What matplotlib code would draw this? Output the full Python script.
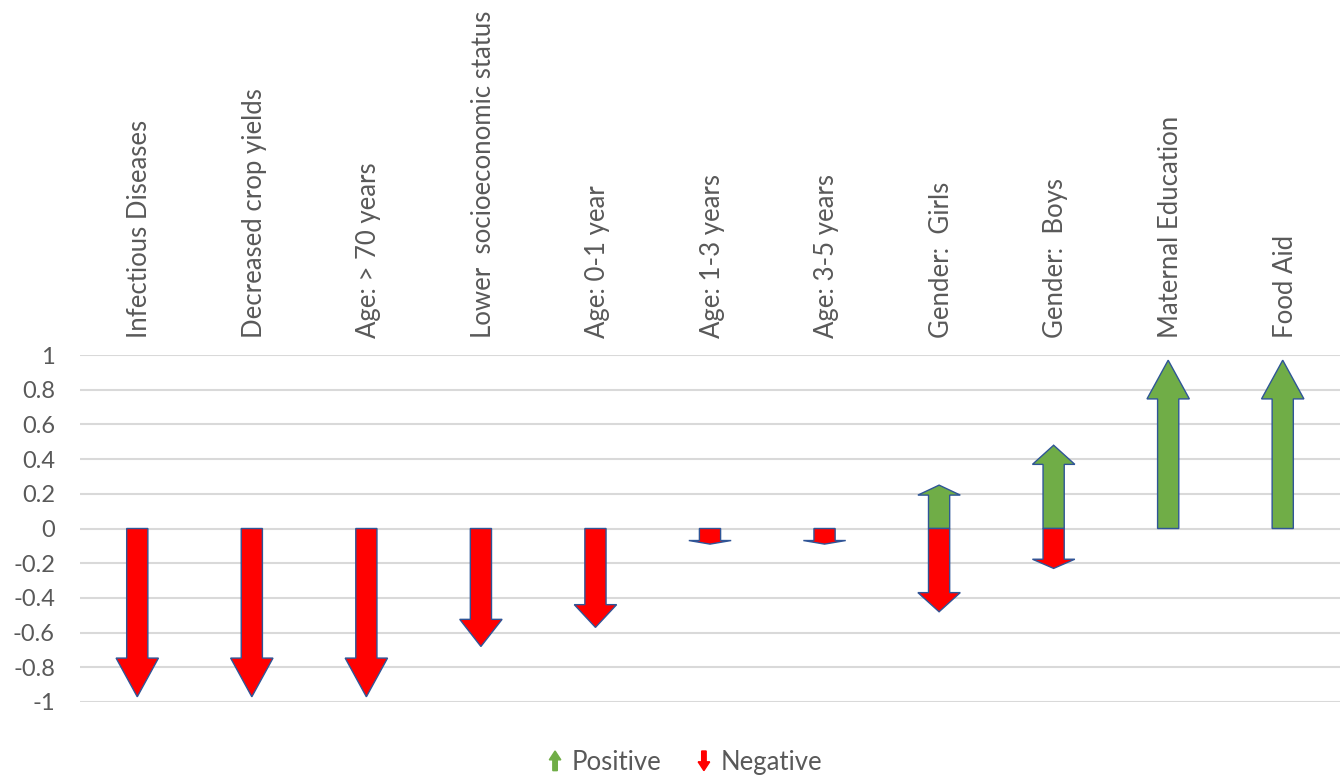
import matplotlib
matplotlib.use('Agg')
import matplotlib.pyplot as plt
from matplotlib.patches import FancyArrow
from matplotlib.legend_handler import HandlerPatch

# data
categories = ['Infectious Diseases', 'Decreased crop yields', 'Age: > 70 years',
              'Lower  socioeconomic status', 'Age: 0-1 year', 'Age: 1-3 years',
              'Age: 3-5 years', 'Gender:  Girls', 'Gender:  Boys',
              'Maternal Education', 'Food Aid']
positive = [0, 0, 0, 0, 0, 0, 0, 0.25, 0.48, 0.97, 0.97]
negative = [-0.97, -0.97, -0.97, -0.68, -0.57, -0.09, -0.09, -0.48, -0.23, 0, 0]
yticks = [-1, -0.8, -0.6, -0.4, -0.2, 0, 0.2, 0.4, 0.6, 0.8, 1]
ytick_labels = ['-1', '-0.8', '-0.6', '-0.4', '-0.2', '0', '0.2', '0.4', '0.6', '0.8', '1']

GREEN = '#70ad47'
RED = '#ff0000'
EDGE = '#2f5597'
TEXT = '#595959'

plt.rcParams['font.family'] = ['Lato', 'DejaVu Sans']

fig = plt.figure(figsize=(13.44, 7.81), dpi=100)
ax = fig.add_axes([80 / 1344, 79 / 781, 1260 / 1344, 347 / 781])
ax.set_xlim(0, len(categories))
ax.set_ylim(-1, 1)

for y in yticks:
    ax.axhline(y, color='#d9d9d9', linewidth=1.5, zorder=0)


def draw_arrow(x, v, color):
    if v == 0:
        return
    head = 0.23 * abs(v)
    ax.add_patch(FancyArrow(x, 0, 0, v, width=0.185, head_width=0.37, head_length=head,
                            length_includes_head=True, facecolor=color, edgecolor=EDGE,
                            linewidth=1, zorder=3))


for i, name in enumerate(categories):
    x = i + 0.5
    draw_arrow(x, positive[i], GREEN)
    draw_arrow(x, negative[i], RED)
    ax.text(x + 0.02, 1.05, name, rotation=90, ha='center', va='bottom', fontsize=18.5,
            color=TEXT, transform=ax.get_xaxis_transform(), clip_on=False)

ax.set_yticks(yticks)
ax.set_yticklabels(ytick_labels)
ax.set_xticks([])
ax.tick_params(axis='y', length=0, labelsize=17, labelcolor=TEXT, pad=18)
for s in ax.spines.values():
    s.set_visible(False)


def make_arrow(legend, orig_handle, xdescent, ydescent, width, height, fontsize):
    up = orig_handle.get_label() == 'Positive'
    cx = width / 2 - xdescent
    if up:
        return FancyArrow(cx, -ydescent, 0, height, width=width * 0.35, head_width=width * 0.9,
                          head_length=height * 0.45, length_includes_head=True)
    return FancyArrow(cx, height - ydescent, 0, -height, width=width * 0.35, head_width=width * 0.9,
                      head_length=height * 0.45, length_includes_head=True)


h_pos = FancyArrow(0, 0, 0, 1, facecolor=GREEN, edgecolor=GREEN, label='Positive')
h_neg = FancyArrow(0, 0, 0, 1, facecolor=RED, edgecolor=RED, label='Negative')
leg = fig.legend(handles=[h_pos, h_neg], loc='center', bbox_to_anchor=(0.51, 0.024),
                 ncol=2, frameon=False, fontsize=18.5, handlelength=0.5, handleheight=0.8,
                 handletextpad=0.4, columnspacing=1.4,
                 handler_map={FancyArrow: HandlerPatch(patch_func=make_arrow)})
for t in leg.get_texts():
    t.set_color(TEXT)

fig.savefig('out.png', dpi=100)
